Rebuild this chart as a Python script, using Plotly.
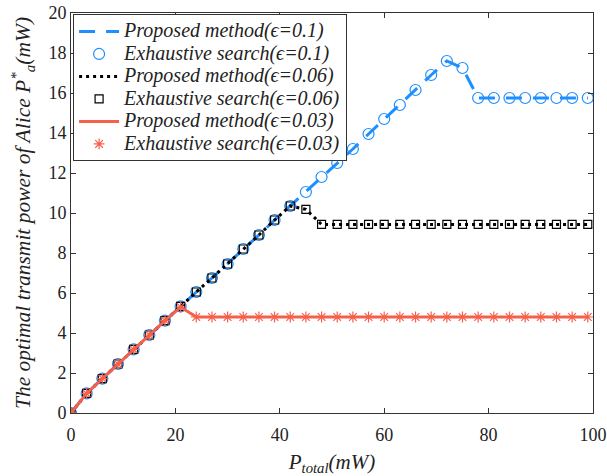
import plotly.graph_objects as go

x = [0, 3, 6, 9, 12, 15, 18, 21, 24, 27, 30, 33, 36, 39, 42, 45, 48, 51, 54, 57,
     60, 63, 66, 69, 72, 75, 78, 81, 84, 87, 90, 93, 96, 99]

p01 = [0, 0.98, 1.72, 2.45, 3.18, 3.9, 4.62, 5.33, 6.05, 6.75, 7.45, 8.2, 8.9,
       9.65, 10.35, 11.05, 11.8, 12.5, 13.2, 13.95, 14.7, 15.4, 16.15, 16.9,
       17.6, 17.25, 15.75, 15.75, 15.75, 15.75, 15.75, 15.75, 15.75, 15.75]

p006 = [0, 0.98, 1.72, 2.45, 3.18, 3.9, 4.62, 5.33, 6.05, 6.75, 7.45, 8.2, 8.9,
        9.65, 10.35, 10.18, 9.43, 9.43, 9.43, 9.43, 9.43, 9.43, 9.43, 9.43,
        9.43, 9.43, 9.43, 9.43, 9.43, 9.43, 9.43, 9.43, 9.43, 9.43]

p003 = [0, 0.98, 1.72, 2.45, 3.18, 3.9, 4.62, 5.3, 4.8, 4.8, 4.8, 4.8, 4.8,
        4.8, 4.8, 4.8, 4.8, 4.8, 4.8, 4.8, 4.8, 4.8, 4.8, 4.8, 4.8, 4.8, 4.8,
        4.8, 4.8, 4.8, 4.8, 4.8, 4.8, 4.8]

names = ["Proposed method(ϵ=0.1)", "Exhaustive search(ϵ=0.1)",
         "Proposed method(ϵ=0.06)", "Exhaustive search(ϵ=0.06)",
         "Proposed method(ϵ=0.03)", "Exhaustive search(ϵ=0.03)"]


def leg(s):
    return '<span style="font-size:20px"><i>' + s + '</i></span>'


BLUE = "#1e8fff"
RED = "#f6604a"
SERIF = "Liberation Serif"

fig = go.Figure()
fig.add_trace(go.Scatter(x=x, y=p01, mode="lines", name=leg(names[0]),
                         line=dict(color=BLUE, width=3, dash="16px,11px")))
fig.add_trace(go.Scatter(x=x, y=p01, mode="markers", name=leg(names[1]),
                         marker=dict(symbol="circle-open", size=11, color=BLUE,
                                     line=dict(width=1.2, color=BLUE))))
fig.add_trace(go.Scatter(x=x, y=p006, mode="lines", name=leg(names[2]),
                         line=dict(color="black", width=3, dash="3px,4px")))
fig.add_trace(go.Scatter(x=x, y=p006, mode="markers", name=leg(names[3]),
                         marker=dict(symbol="square-open", size=8, color="black",
                                     line=dict(width=1.2, color="black"))))
fig.add_trace(go.Scatter(x=x, y=p003, mode="lines", name=leg(names[4]),
                         line=dict(color=RED, width=3)))
fig.add_trace(go.Scatter(x=x, y=p003, mode="markers", name=leg(names[5]),
                         marker=dict(symbol="asterisk-open", size=9, color=RED,
                                     line=dict(width=1.2, color=RED))))

axis_common = dict(showgrid=False, zeroline=False, showline=True, linecolor="#333",
                   linewidth=1, mirror="ticks", ticks="inside", ticklen=5,
                   tickcolor="#333", automargin=False,
                   tickfont=dict(family=SERIF, size=18, color="#222"))

fig.update_layout(
    width=607, height=476,
    margin=dict(l=71, r=14, t=13, b=63),
    plot_bgcolor="white", paper_bgcolor="white",
    font=dict(family=SERIF, color="#222"),
    showlegend=True,
    legend=dict(x=0.004, y=0.997, xanchor="left", yanchor="top",
                bgcolor="white", bordercolor="#333", borderwidth=1,
                font=dict(family=SERIF, size=15),
                tracegroupgap=0, itemwidth=40),
    xaxis=dict(range=[0, 100], tickvals=[0, 20, 40, 60, 80, 100],
               ticklabelstandoff=5,
               title=dict(text="<i>P<sub>total</sub>(mW)</i>", standoff=12,
                          font=dict(family=SERIF, size=21)),
               **axis_common),
    yaxis=dict(range=[0, 20], tickvals=list(range(0, 21, 2)),
               title=dict(text="<i>The optimal transmit power of Alice P<sup>*</sup><sub>a</sub>(mW)</i>",
                          standoff=11,
                          font=dict(family=SERIF, size=21.5)),
               **axis_common),
)

fig.write_html("out.html")
